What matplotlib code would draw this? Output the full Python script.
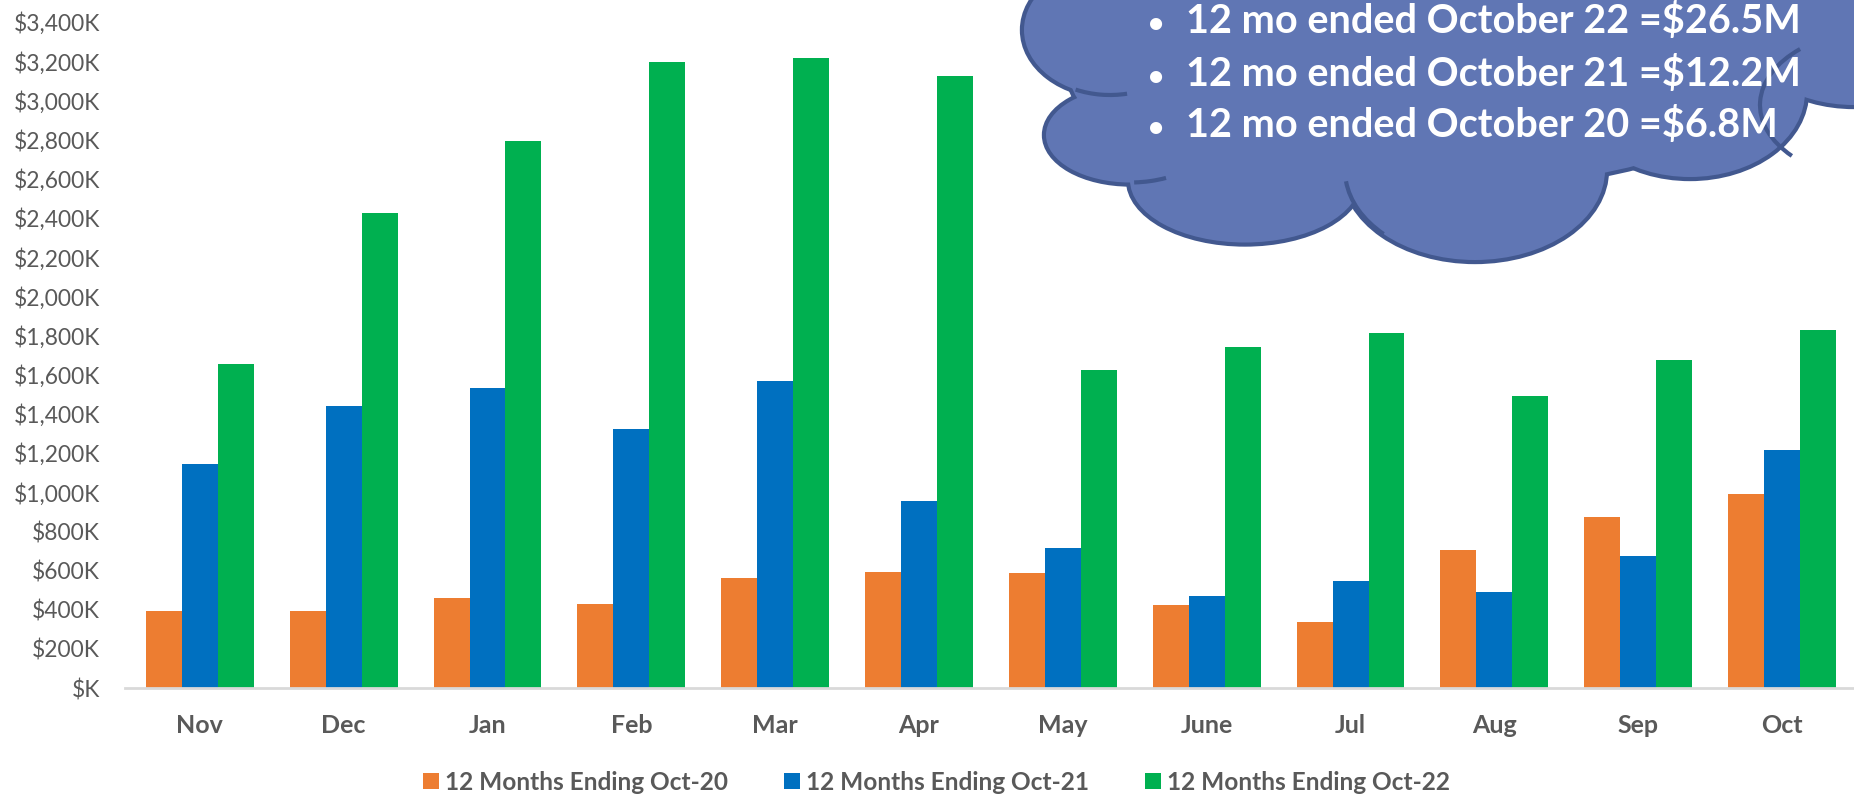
"""
Monthly revenue by 12-month period, grouped bars with a cloud callout.
"""

import matplotlib
matplotlib.use("Agg")
import matplotlib.pyplot as plt
from matplotlib.patches import Ellipse, Rectangle, Arc, Patch
import numpy as np

# ---- data (values in $K) ----
months = ["Nov", "Dec", "Jan", "Feb", "Mar", "Apr",
          "May", "June", "Jul", "Aug", "Sep", "Oct"]
oct20 = [393, 393, 458, 427, 560, 590, 588, 422, 338, 706, 872, 991]
oct21 = [1146, 1442, 1529, 1323, 1565, 956, 713, 471, 547, 492, 673, 1216]
oct22 = [1653, 2425, 2791, 3196, 3218, 3124, 1624, 1741, 1814, 1493, 1676, 1830]
series_names = ["12 Months Ending Oct-20", "12 Months Ending Oct-21",
                "12 Months Ending Oct-22"]
y_ticks = list(range(0, 3401, 200))
callout_lines = ["12 mo ended October 22 =$26.5M",
                 "12 mo ended October 21 =$12.2M",
                 "12 mo ended October 20 =$6.8M"]

colors = ["#ED7D31", "#0070C0", "#00B050"]
GREY = "#595959"
FONT = "Lato"

W, H = 1854, 795
fig = plt.figure(figsize=(W / 100, H / 100), dpi=100)

# main axes placed in pixel terms
left, bottom_px, top_px = 125, 688, 22
ax = fig.add_axes([left / W, 1 - bottom_px / H, 1 - left / W, (bottom_px - top_px) / H])

x = np.arange(len(months))
bw = 0.25
for i, (vals, c) in enumerate(zip([oct20, oct21, oct22], colors)):
    ax.bar(x + (i - 1) * bw, vals, width=bw, color=c, edgecolor="none", zorder=2)

ax.set_xlim(-0.52, 11.5)
ax.set_ylim(0, 3400)
ax.set_yticks(y_ticks)
ax.set_yticklabels(["$K" if v == 0 else "${:,}K".format(v) for v in y_ticks],
                   fontfamily=FONT, fontsize=16.4, color=GREY)
ax.set_xticks(x)
ax.set_xticklabels(months, fontfamily=FONT, fontweight="bold", fontsize=18, color=GREY)
ax.tick_params(axis="both", length=0)
ax.tick_params(axis="y", pad=18)
ax.tick_params(axis="x", pad=19)
for s in ["top", "right", "left"]:
    ax.spines[s].set_visible(False)
ax.spines["bottom"].set_color("#D9D9D9")
ax.spines["bottom"].set_linewidth(2)
ax.spines["bottom"].set_zorder(3)

# legend
handles = [Patch(facecolor=c, edgecolor="none") for c in colors]
leg = fig.legend(handles, series_names, loc="center", bbox_to_anchor=(0.505, 1 - 782 / H),
                 ncol=3, frameon=False, handlelength=0.64, handleheight=0.64,
                 handletextpad=0.25, columnspacing=2.3,
                 prop={"family": FONT, "weight": "bold", "size": 17.6})
for t in leg.get_texts():
    t.set_color(GREY)

# ---- cloud callout (pixel coordinates) ----
cax = fig.add_axes([0, 0, 1, 1], zorder=5)
cax.set_xlim(0, W)
cax.set_ylim(H, 0)
cax.axis("off")

FILL = "#6076B4"
EDGE = "#42588F"
lobes = [
    (1110, 30, 172, 130),
    (1130, 135, 168, 95),
    (1245, 180, 230, 125),
    (1475, 170, 260, 180),
    (1690, 92, 230, 170),
    (1854, 30, 220, 150),
    (1420, 75, 700, 230),
]
for cx, cy, w, h in lobes:
    cax.add_patch(Ellipse((cx, cy), w, h, facecolor=EDGE, edgecolor=EDGE, lw=6, zorder=1))
cax.add_patch(Rectangle((1090, -20), 780, 90, facecolor=EDGE, edgecolor=EDGE, lw=6, zorder=1))
for cx, cy, w, h in lobes:
    cax.add_patch(Ellipse((cx, cy), w, h, facecolor=FILL, edgecolor="none", zorder=2))
cax.add_patch(Rectangle((1090, -20), 780, 90, facecolor=FILL, edgecolor="none", zorder=2))

# inner strokes of the cloud
arcs = [
    ((1110, 30), 172, 130, 75, 120),
    ((1130, 135), 168, 95, 50, 85),
    ((1475, 170), 260, 180, 145, 175),
    ((1880, 105), 240, 150, 150, 215),
]
for c, w, h, t1, t2 in arcs:
    cax.add_patch(Arc(c, w, h, theta1=t1, theta2=t2, color=EDGE, lw=3, zorder=3))

baselines = [33, 86, 137]
for line, yb in zip(callout_lines, baselines):
    cax.text(1156, yb, "\u2022", color="white", fontfamily=FONT, fontweight="bold",
             fontsize=20, ha="center", va="baseline", zorder=4)
    cax.text(1186, yb, line, color="white", fontfamily=FONT, fontweight="bold",
             fontsize=28.5, ha="left", va="baseline", zorder=4)

fig.savefig("out.png", dpi=100)
plt.close(fig)
